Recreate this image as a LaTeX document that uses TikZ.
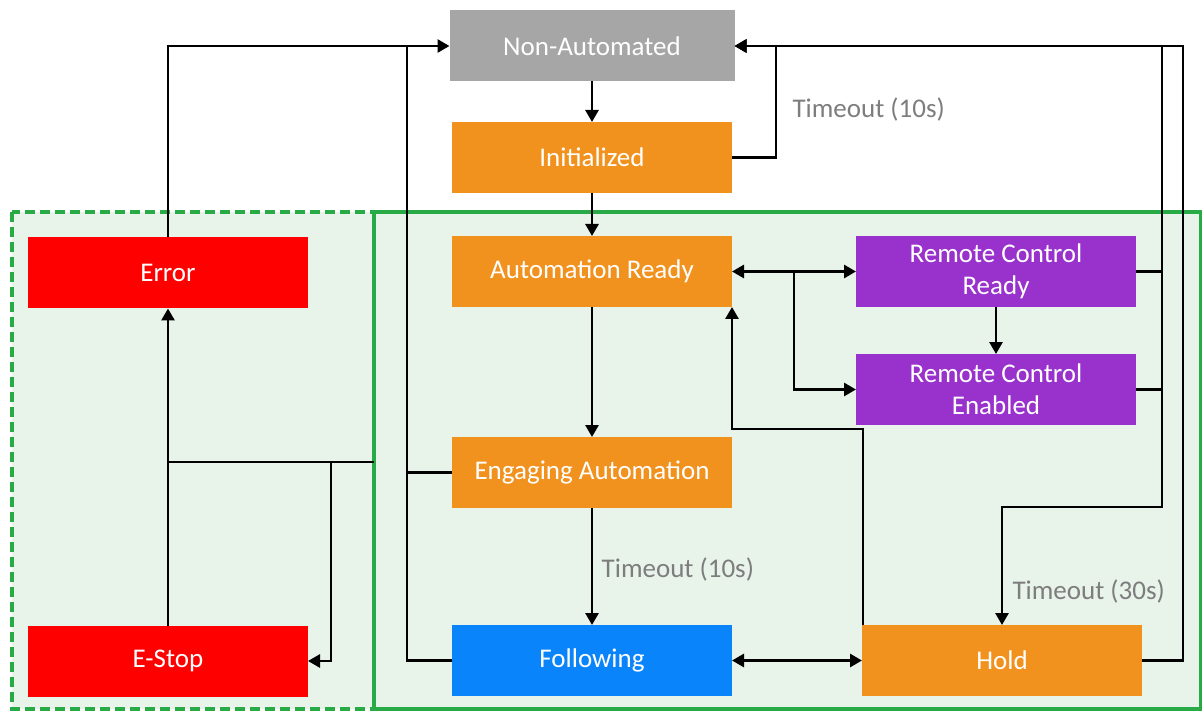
\documentclass[tikz,border=0pt]{standalone}
\usepackage{fontspec}
\setmainfont{Carlito}
\usetikzlibrary{arrows.meta}

\definecolor{naGray}{RGB}{166,166,166}
\definecolor{stOrange}{RGB}{242,146,30}
\definecolor{stBlue}{RGB}{10,132,250}
\definecolor{stPurple}{RGB}{153,50,204}
\definecolor{stRed}{RGB}{255,0,0}
\definecolor{zoneGreen}{RGB}{40,170,70}
\definecolor{zoneFill}{RGB}{232,243,234}
\definecolor{noteGray}{RGB}{125,125,125}

\begin{document}
\begin{tikzpicture}[x=1pt,y=-1pt,
        >={Triangle[length=12pt,width=13pt]},
        stbox/.style={fill=#1,text=white,minimum width=280pt,minimum height=71pt,
            inner sep=0pt,outer sep=0pt,align=center,font=\fontsize{27}{32}\selectfont},
        note/.style={text=noteGray,anchor=west,font=\fontsize{27}{32}\selectfont},
        wire/.style={line width=2.8pt},
        zone/.style={draw=zoneGreen,line width=3.5pt}]
        \useasboundingbox (0,0) rectangle (1202,711);

        % automation zones
        \fill[zoneFill] (12,212) rectangle (1201,709);
        \draw[zone,dash pattern=on 10pt off 5pt] (12,212) rectangle (374,709);
        \draw[zone] (374,212) rectangle (1201,709);

        % states
        \node[stbox=naGray,minimum width=285pt] (nonauto) at (592,46) {Non-Automated};
        \node[stbox=stOrange] (init) at (592,157.5) {Initialized};
        \node[stbox=stOrange] (ready) at (592,271.5) {Automation Ready};
        \node[stbox=stOrange] (engage) at (592,472.5) {Engaging Automation};
        \node[stbox=stBlue] (follow) at (592,660.5) {Following};
        \node[stbox=stOrange] (hold) at (1002,660.5) {Hold};
        \node[stbox=stPurple] (rcready) at (996,271.5) {Remote Control\\Ready};
        \node[stbox=stPurple] (rcenable) at (996,389.5) {Remote Control\\Enabled};
        \node[stbox=stRed] (error) at (168,273) {Error};
        \node[stbox=stRed] (estop) at (168,661) {E-Stop};

        \coordinate (busL) at (407,46);
        \coordinate (busRC) at (1162,46);
        \coordinate (busR) at (1183,46);
        \coordinate (zoneL) at (374,462);

        % main sequence
        \draw[wire,->] (nonauto) -- (init);
        \draw[wire,->] (init) -- (ready);
        \draw[wire,->] (ready) -- (engage);
        \draw[wire,->] (engage) -- node[note,xshift=5pt,yshift=-3pt] {Timeout (10s)} (follow);

        % back to non-automated
        \draw[wire,->] (init.east) -| (776,46) -- (nonauto.east);
        \node[note] (tmoInit) at (789,109) {Timeout (10s)};
        \draw[wire,->] (error.north) |- (nonauto.west);
        \draw[wire] (follow.west) -| (busL);
        \draw[wire] (engage.west) -- (engage.west -| busL);

        % any automated state to error / e-stop
        \draw[wire] (zoneL) -- (zoneL -| error.south);
        \draw[wire,->] (estop.north) -- (error.south);
        \draw[wire,->] (331,462) |- (estop.east);

        % remote control
        \draw[wire,<->] (ready.east) -- (rcready.west);
        \draw[wire,->] (794,271.5) |- (rcenable.west);
        \draw[wire,->] (rcready) -- (rcenable);
        \draw[wire] (rcready.east) -- (rcready.east -| busRC);
        \draw[wire] (rcenable.east) -- (rcenable.east -| busRC);
        \draw[wire,->] (busRC) -- (1162,507) -| (hold.north);
        \node[note] (tmoHold) at (1009,591) {Timeout (30s)};

        % hold
        \draw[wire,->] ([xshift=1pt]hold.north west) |- ([yshift=-122pt]ready.south east) -- (ready.south east);
        \draw[wire,->] (hold.east) -| (busR) -- (nonauto.east);
        \draw[wire,<->] (follow.east) -- (hold.west);
    \end{tikzpicture}
\end{document}
